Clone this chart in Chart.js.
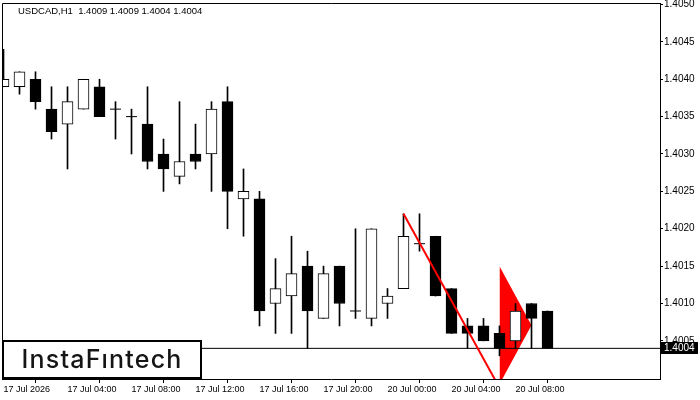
<!DOCTYPE html>
<html><head><meta charset="utf-8">
<script src="https://cdn.jsdelivr.net/npm/chart.js@4/dist/chart.umd.min.js"></script>
<style>html,body{margin:0;padding:0;background:#fff;overflow:hidden}#wrap{width:700px;height:400px}</style>
</head><body><div id="wrap"><canvas id="c" width="700" height="400"></canvas></div>
<script>
const chartTitle = 'USDCAD,H1  1.4009 1.4009 1.4004 1.4004';
const logoText = 'InstaF\u0131ntech';
const xTickPositions = [0, 4, 8, 12, 16, 20, 24, 28, 32];
const xTickLabels = ['17 Jul 2026', '17 Jul 04:00', '17 Jul 08:00', '17 Jul 12:00', '17 Jul 16:00', '17 Jul 20:00', '20 Jul 00:00', '20 Jul 04:00', '20 Jul 08:00'];
const yTickValues = [1.4005, 1.4010, 1.4015, 1.4020, 1.4025, 1.4030, 1.4035, 1.4040, 1.4045, 1.4050];

const openP  = [1.4039,1.4039,1.4040,1.4036,1.4034,1.4036,1.4039,1.4036,1.4035,1.4034,1.4030,1.4027,1.4030,1.4030,1.4037,1.4024,1.4024,1.4010,1.4011,1.4015,1.4008,1.4015,1.4009,1.4008,1.4010,1.4012,1.4018,1.4019,1.4012,1.4007,1.4007,1.4006,1.4005,1.4010,1.4009];
const highP  = [1.4044,1.4041,1.4041,1.4039,1.4039,1.4040,1.4040,1.4037,1.4036,1.4039,1.4032,1.4037,1.4034,1.4037,1.4039,1.4028,1.4025,1.4016,1.4019,1.4017,1.4015,1.4015,1.4020,1.4020,1.4012,1.4022,1.4022,1.4019,1.4012,1.4008,1.4008,1.4007,1.4010,1.4010,1.4009];
const lowP   = [1.4039,1.4038,1.4036,1.4032,1.4028,1.4036,1.4035,1.4032,1.4030,1.4028,1.4025,1.4026,1.4028,1.4025,1.4020,1.4019,1.4007,1.4006,1.4006,1.4004,1.4008,1.4007,1.4008,1.4007,1.4008,1.4012,1.4017,1.4011,1.4006,1.4004,1.4005,1.4003,1.4004,1.4004,1.4004];
const closeP = [1.4040,1.4041,1.4037,1.4033,1.4037,1.4040,1.4035,1.4036,1.4035,1.4029,1.4028,1.4029,1.4029,1.4036,1.4025,1.4025,1.4009,1.4012,1.4014,1.4009,1.4014,1.4010,1.4009,1.4020,1.4011,1.4019,1.4018,1.4011,1.4006,1.4006,1.4005,1.4004,1.4009,1.4008,1.4004];

const lastPrice = 1.4004;
const poleX = [25, 30.8];
const poleY = [1.4022, 1.39995];
const pennantTopX = [31, 33];
const pennantTopY = [1.40150, 1.40071];
const pennantBotX = [31, 33];
const pennantBotY = [1.39992, 1.40071];

const X_MIN = -0.09375, X_MAX = 41.03125;
const Y_MIN = 1.39999, Y_MAX = 1.40502;

const bodies = [], bodyColors = [], wicks = [], dojis = [];
openP.forEach((o, k) => {
  const c = closeP[k];
  wicks.push({x: k, y: [lowP[k], highP[k]]});
  if (o === c) { dojis.push({x: k, y: o}); }
  else { bodies.push({x: k, y: [o, c]}); bodyColors.push(c > o ? '#ffffff' : '#000000'); }
});

const axisFont = {family: '"Liberation Sans", Arial, sans-serif', size: 10};
const xFont = {family: '"Liberation Sans", Arial, sans-serif', size: 9};

const overlay = {
  id: 'overlay',
  afterDraw(chart) {
    const ctx = chart.ctx, a = chart.chartArea, ys = chart.scales.y;
    ctx.save();
    ctx.strokeStyle = '#000'; ctx.lineWidth = 1;
    ctx.beginPath();
    ctx.moveTo(a.left + 0.5, a.bottom); ctx.lineTo(a.left + 0.5, a.top + 0.5); ctx.lineTo(a.right, a.top + 0.5);
    ctx.stroke();
    ctx.fillStyle = '#000';
    ctx.font = '9.5px "Liberation Sans", Arial, sans-serif';
    ctx.textBaseline = 'alphabetic'; ctx.textAlign = 'left';
    ctx.fillText(chartTitle, 18, 14);
    const py = Math.round(ys.getPixelForValue(lastPrice));
    ctx.fillStyle = '#000';
    ctx.fillRect(a.right + 1, py - 6, 37, 12);
    ctx.fillStyle = '#fff';
    ctx.font = '10px "Liberation Sans", Arial, sans-serif';
    ctx.textBaseline = 'middle';
    ctx.fillText(lastPrice.toFixed(4), a.right + 4, py);
    ctx.fillStyle = '#fff';
    ctx.fillRect(2, 340, 199, 39);
    ctx.strokeStyle = '#000'; ctx.lineWidth = 2;
    ctx.strokeRect(3, 341, 198, 37);
    ctx.fillStyle = '#151515';
    ctx.font = '500 25px Inter, "Noto Sans", sans-serif';
    ctx.letterSpacing = '1.2px';
    ctx.textAlign = 'center'; ctx.textBaseline = 'alphabetic';
    ctx.fillText(logoText, 102, 368);
    ctx.restore();
  }
};

new Chart(document.getElementById('c'), {
  type: 'bar',
  data: {
    datasets: [
      {type: 'line', data: poleX.map((x, i) => ({x, y: poleY[i]})), borderColor: '#ff0000', borderWidth: 2, pointRadius: 0, order: 0},
      {type: 'line', data: [{x: X_MIN, y: lastPrice}, {x: X_MAX, y: lastPrice}], borderColor: '#000', borderWidth: 1, pointRadius: 0, order: 1},
      {type: 'line', data: dojis, showLine: false, pointStyle: 'line', pointRadius: 5.5, pointBorderWidth: 1, pointBorderColor: '#000', borderColor: '#000', order: 2},
      {type: 'bar', data: bodies, backgroundColor: bodyColors, borderColor: '#000', borderWidth: 1, borderSkipped: false, barThickness: 11, grouped: false, order: 3},
      {type: 'bar', data: wicks, backgroundColor: '#000', borderWidth: 0, barThickness: 1, grouped: false, order: 4},
      {type: 'line', data: pennantTopX.map((x, i) => ({x, y: pennantTopY[i]})), borderWidth: 0, borderColor: 'rgba(0,0,0,0)', pointRadius: 0, fill: '+1', backgroundColor: '#ff0000', order: 5},
      {type: 'line', data: pennantBotX.map((x, i) => ({x, y: pennantBotY[i]})), borderWidth: 0, borderColor: 'rgba(0,0,0,0)', pointRadius: 0, fill: false, order: 6}
    ]
  },
  options: {
    responsive: false, animation: false, devicePixelRatio: 1,
    layout: {autoPadding: false, padding: {top: 3, left: 2, right: 0, bottom: 0}},
    plugins: {legend: {display: false}, tooltip: {enabled: false}},
    scales: {
      x: {
        type: 'linear', min: X_MIN, max: X_MAX, offset: false,
        afterBuildTicks: s => { s.ticks = xTickPositions.map(v => ({value: v})); },
        afterFit: s => { s.height = 21; s.paddingLeft = 0; s.paddingRight = 0; },
        ticks: {autoSkip: false, maxRotation: 0, align: 'start', padding: 1, color: '#000', font: xFont,
          callback: v => xTickLabels[xTickPositions.indexOf(v)]},
        grid: {drawOnChartArea: false, drawTicks: true, tickLength: 4, color: '#000'},
        border: {display: true, color: '#000', width: 1}
      },
      y: {
        type: 'linear', position: 'right', min: Y_MIN, max: Y_MAX,
        afterBuildTicks: s => { s.ticks = yTickValues.map(v => ({value: v})); },
        afterFit: s => { s.width = 40; s.paddingTop = 0; s.paddingBottom = 0; },
        ticks: {padding: 1, color: '#000', font: axisFont, callback: v => Number(v).toFixed(4)},
        grid: {drawOnChartArea: false, drawTicks: true, tickLength: 3, color: '#000'},
        border: {display: true, color: '#000', width: 1}
      }
    }
  },
  plugins: [overlay]
});
</script></body></html>
